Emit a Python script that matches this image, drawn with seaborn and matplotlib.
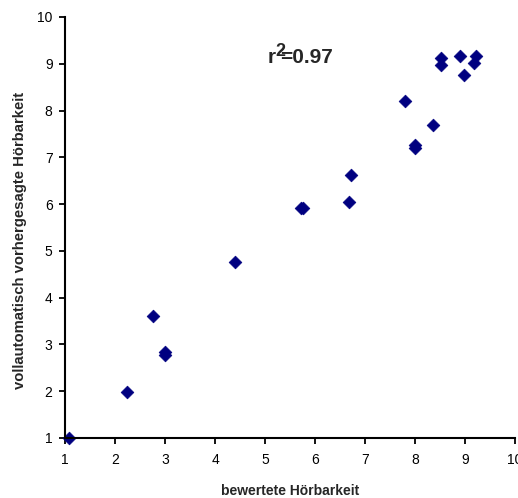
import numpy as np
import pandas as pd
import seaborn as sns
import matplotlib.pyplot as plt

# rated vs. fully automatically predicted audibility
bewertet = [1.07, 2.23, 2.75, 2.99, 3.0, 4.39, 5.71, 5.76, 6.67, 6.71,
            7.8, 8.0, 8.01, 8.36, 8.52, 8.52, 8.91, 8.99, 9.19, 9.23]
vorhergesagt = [1.0, 1.98, 3.6, 2.77, 2.84, 4.77, 5.92, 5.91, 6.04, 6.63,
                8.21, 7.27, 7.2, 7.69, 9.13, 8.97, 9.16, 8.76, 9.02, 9.16]
ticks = list(range(1, 11))
r2_text = "=0.97"

df = pd.DataFrame({"x": bewertet, "y": vorhergesagt})

sns.set_style("ticks")
plt.rcParams["font.family"] = ["Liberation Sans", "DejaVu Sans"]

fig = plt.figure(figsize=(5.18, 4.98), dpi=100)
ax = fig.add_axes([0.1255, 0.1205, 0.8687, 0.8454])

sns.scatterplot(data=df, x="x", y="y", ax=ax, marker="D", s=42,
                color="#000080", edgecolor="#000080", linewidth=0.5)
for c in ax.collections:
    c.set_clip_on(False)

ax.set_xlim(1, 10)
ax.set_ylim(1, 10)
ax.set_xticks(ticks)
ax.set_yticks(ticks)
ax.tick_params(axis="both", direction="out", length=4, width=1.3,
               labelsize=10, colors="black")
ax.tick_params(axis="x", pad=7)
ax.tick_params(axis="y", pad=5)

for side in ["top", "right"]:
    ax.spines[side].set_visible(False)
for side in ["left", "bottom"]:
    ax.spines[side].set_linewidth(1.5)
    ax.spines[side].set_color("black")

ax.set_xlabel("bewertete Hörbarkeit", fontsize=10, fontweight="bold", labelpad=12)
ax.set_ylabel("vollautomatisch vorhergesagte Hörbarkeit", fontsize=10.7,
              fontweight="bold")
ax.yaxis.set_label_coords(-0.084, 0.47)

# r^2 annotation: "r", raised "2", then "=0.97"
tx, ty = 5.06, 9.01
ax.annotate("r", (tx, ty), fontsize=15, fontweight="bold", va="baseline")
ax.annotate("2", (tx, ty), xytext=(5.5, 5.5), textcoords="offset points",
            fontsize=13, fontweight="bold", va="baseline")
ax.annotate(r2_text, (tx, ty), xytext=(9, 0), textcoords="offset points",
            fontsize=15, fontweight="bold", va="baseline")

fig.savefig("out.png", dpi=100)
